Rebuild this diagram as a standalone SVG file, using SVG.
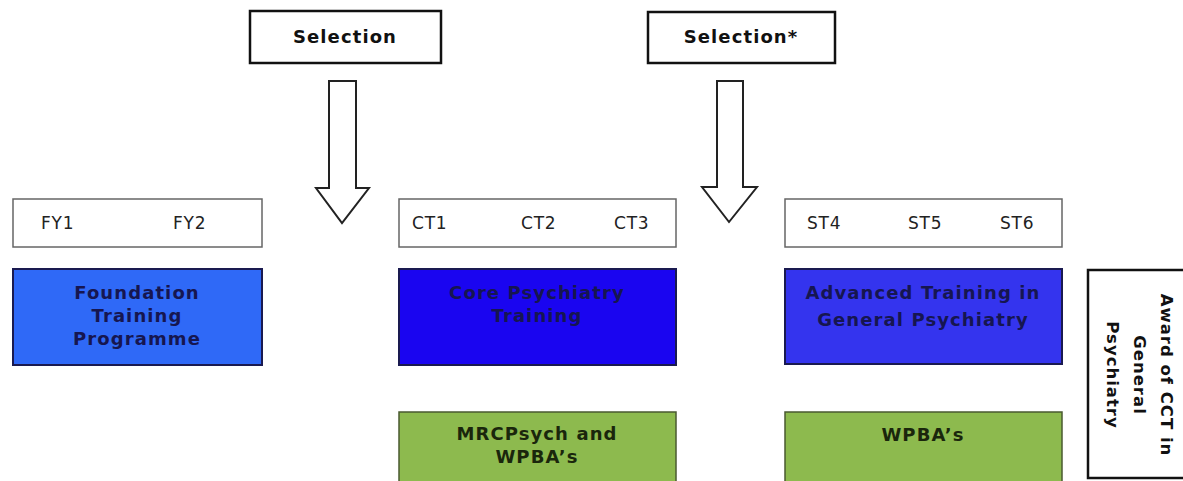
<svg xmlns="http://www.w3.org/2000/svg" width="1183" height="481" viewBox="0 0 1183 481">
<style>
.bg{fill:#ffffff}
.sel{fill:#ffffff;stroke:#111;stroke-width:2.5}
.yr{fill:#ffffff;stroke:#666;stroke-width:1.5}
.arrow{fill:#ffffff;stroke:#222;stroke-width:2;stroke-linejoin:miter}
.blue1{fill:#2f69f7;stroke:#1a1a50;stroke-width:2}
.blue2{fill:#1a05f0;stroke:#1a1a50;stroke-width:2}
.blue3{fill:#3434ee;stroke:#1a1a50;stroke-width:2}
.green{fill:#8dba4e;stroke:#4a5a30;stroke-width:1.5}
.award{fill:#ffffff;stroke:#111;stroke-width:2.5}
text{font-family:"DejaVu Sans",Verdana,sans-serif}
.b{font-weight:bold;font-size:18px;letter-spacing:1.1px;text-anchor:middle}
.aw{font-size:16.5px;letter-spacing:1px}
.lbl{font-size:17px;letter-spacing:0.8px;fill:#222}
.navy{fill:#161650}
.dg{fill:#1a260c}
.blk{fill:#111}
</style>
<rect class="bg" x="0" y="0" width="1183" height="481"/>
<g id="selection1">
<rect class="sel" x="250" y="11" width="191" height="52"/>
<text class="b blk" x="345" y="43">Selection</text>
</g>
<g id="selection2">
<rect class="sel" x="648" y="12" width="187" height="51"/>
<text class="b blk" x="741" y="43">Selection*</text>
</g>
<g id="connectors">
<polygon class="arrow" points="329,81 356,81 356,188 369,188 342,223 316,188 329,188"/>
<polygon class="arrow" points="717,81 743,81 743,187 757,187 729,222 702,187 717,187"/>
</g>
<g id="fy">
<rect class="yr" x="13" y="199" width="249" height="48"/>
<text class="lbl" x="41" y="229">FY1</text>
<text class="lbl" x="173" y="229">FY2</text>
</g>
<g id="ct">
<rect class="yr" x="399" y="199" width="277" height="48"/>
<text class="lbl" x="412" y="229">CT1</text>
<text class="lbl" x="521" y="229">CT2</text>
<text class="lbl" x="614" y="229">CT3</text>
</g>
<g id="st">
<rect class="yr" x="785" y="199" width="277" height="48"/>
<text class="lbl" x="807" y="229">ST4</text>
<text class="lbl" x="908" y="229">ST5</text>
<text class="lbl" x="1000" y="229">ST6</text>
</g>
<g id="foundation">
<rect class="blue1" x="13" y="269" width="249" height="96"/>
<text class="b navy" x="137" y="299">Foundation</text>
<text class="b navy" x="137" y="322">Training</text>
<text class="b navy" x="137" y="345">Programme</text>
</g>
<g id="core">
<rect class="blue2" x="399" y="269" width="277" height="96"/>
<text class="b navy" x="537" y="299">Core Psychiatry</text>
<text class="b navy" x="537" y="322">Training</text>
</g>
<g id="advanced">
<rect class="blue3" x="785" y="269" width="277" height="95"/>
<text class="b navy" x="923" y="299">Advanced Training in</text>
<text class="b navy" x="923" y="326">General Psychiatry</text>
</g>
<g id="mrcpsych">
<rect class="green" x="399" y="412" width="277" height="72"/>
<text class="b dg" x="537" y="440">MRCPsych and</text>
<text class="b dg" x="537" y="463">WPBA’s</text>
</g>
<g id="wpba">
<rect class="green" x="785" y="412" width="277" height="72"/>
<text class="b dg" x="923" y="441">WPBA’s</text>
</g>
<g id="award">
<rect class="award" x="1088" y="270" width="100" height="208"/>
<g transform="translate(1167,375) rotate(90)">
<text class="b aw blk" x="0" y="6">Award of CCT in</text>
<text class="b aw blk" x="0" y="33">General</text>
<text class="b aw blk" x="0" y="60">Psychiatry</text>
</g>
</g>
</svg>
